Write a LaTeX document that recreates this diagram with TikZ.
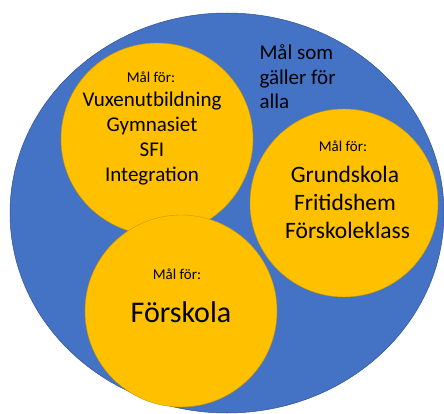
\documentclass[tikz,border=0pt]{standalone}
\usepackage{fontspec}
\setmainfont{Carlito}
\usetikzlibrary{shapes.geometric}
\definecolor{allblue}{HTML}{4472C4}
\definecolor{allborder}{HTML}{2F528F}
\definecolor{goalgold}{HTML}{FFC000}
\definecolor{goalborder}{HTML}{C99700}
\begin{document}
\begin{tikzpicture}[x=1pt, y=-1pt,
    goal/.style={circle, draw=goalborder, line width=0.4pt, fill=goalgold, inner sep=0pt},
    small/.style={anchor=base, font=\fontsize{15}{18}\selectfont},
    lines/.style={anchor=base, align=center}]

    \useasboundingbox (0,0) rectangle (444,414);

    \node[ellipse, draw=allborder, line width=0.5pt, fill=allblue, minimum width=434pt, minimum height=400pt, inner sep=0pt] (alla) at (227,213) {};

    \node[goal, minimum size=192pt] (vuxen) at (157,139) {};
    \node[goal, minimum size=188pt] (grund) at (344,203) {};
    \node[goal, minimum size=192pt] (forskola) at (181,311) {};

    \node[anchor=base west, align=left, font=\fontsize{21}{24.5}\selectfont] (allatext) at (256,109) {Mål som\\gäller för\\alla};

    \node[small] (vuxenmal) at (151,83) {Mål för:};
    \node[lines, font=\fontsize{21}{25}\selectfont] (vuxentext) at (152,182) {Vuxenutbildning\\Gymnasiet\\SFI\\Integration};

    \node[small] (grundmal) at (343,152) {Mål för:};
    \node[lines, font=\fontsize{23.5}{28}\selectfont] (grundtext) at (345,238) {Grundskola\\Fritidshem\\\ Förskoleklass};

    \node[small] (forskolamal) at (177,279) {Mål för:};
    \node[anchor=base, font=\fontsize{30}{36}\selectfont] (forskolatext) at (181,322) {Förskola};
\end{tikzpicture}
\end{document}
